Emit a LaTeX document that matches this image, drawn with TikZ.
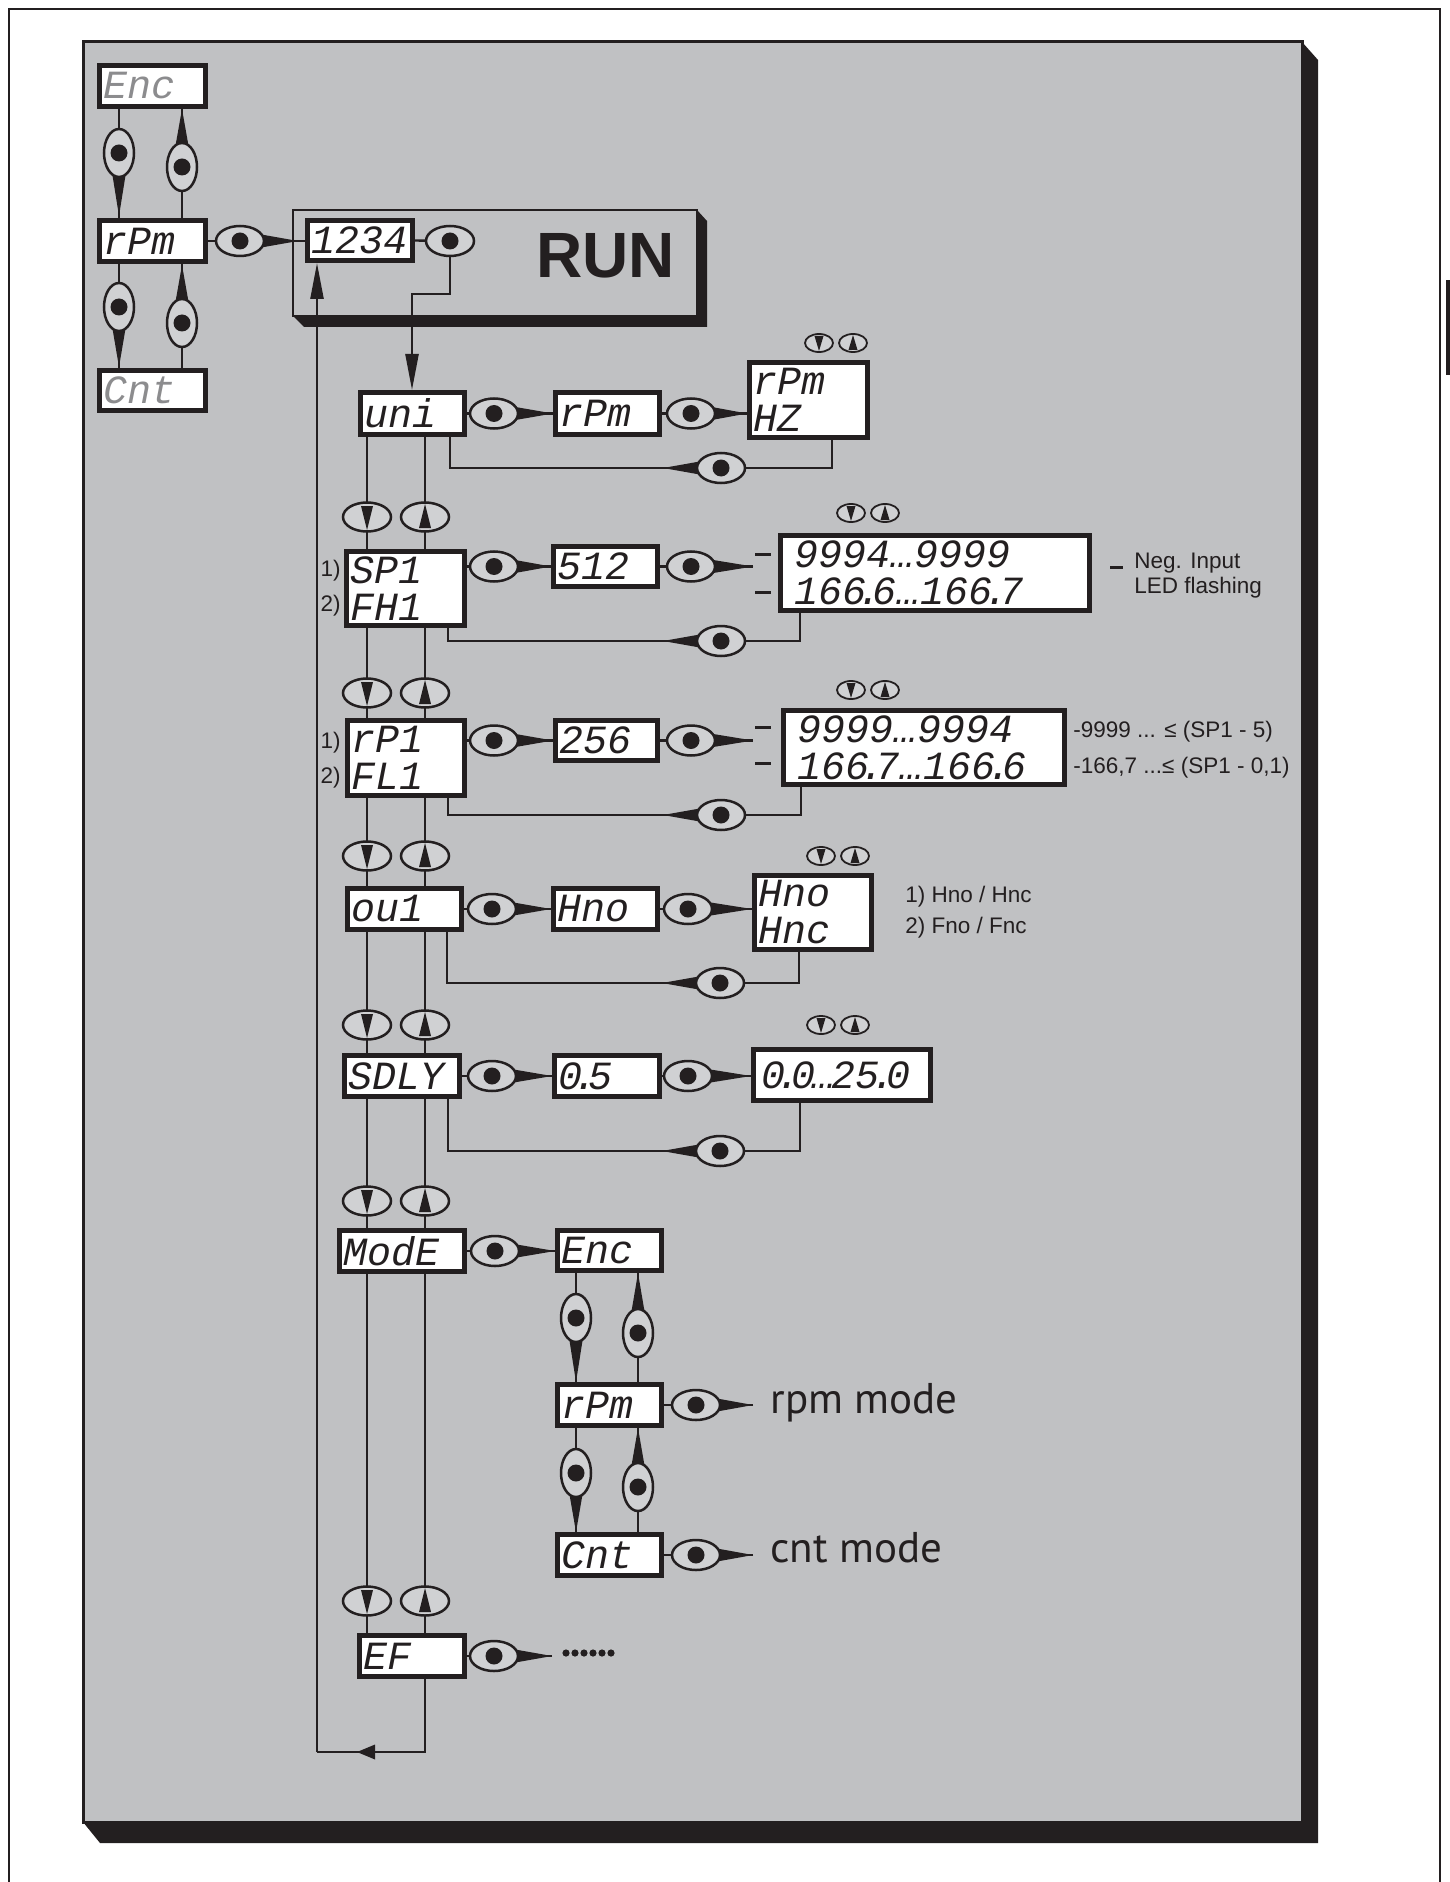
\documentclass[tikz,border=0pt]{standalone}
\usepackage{fontspec}
\setmainfont{Liberation Sans}
\newfontfamily\lcdfont{Liberation Mono}
\newfontfamily\modefont{PT Sans}
\usetikzlibrary{arrows.meta}
\definecolor{ink}{RGB}{35,31,32}
\definecolor{panelgray}{RGB}{192,193,195}
\definecolor{ovalgray}{RGB}{208,209,211}
\definecolor{lcdgray}{RGB}{140,140,142}
\newcommand\dt{\kern-.22em.\kern-.22em}
\tikzset{
  lcd/.style={draw=ink,line width=2.5pt,fill=white,rectangle,inner xsep=2pt,inner ysep=0pt,
    align=left,text=ink,font=\lcdfont\itshape\fontsize{20pt}{18.5pt}\selectfont},
  conn/.style={draw=ink,line width=1.2pt},
  tip/.style={-{Triangle[length=18pt,width=6.5pt]}},
  lbl/.style={font=\fontsize{11.25pt}{13.5pt}\selectfont,text=ink,inner sep=0pt},
  modelbl/.style={font=\modefont\fontsize{21.5pt}{24pt}\selectfont,text=ink,inner sep=0pt,anchor=base west},
  pics/pushb/.style={code={
     \fill[ink] (10,-8.5) -- (#1,0) -- (10,8.5) -- cycle;
     \draw[ink,line width=1.25pt,fill=ovalgray] (0,0) ellipse [x radius=12pt,y radius=7.5pt];
     \fill[ink] (0,0) circle [radius=4.25pt];}},
  pics/arrbtn/.style={code={
     \draw[ink,line width=1.25pt,fill=ovalgray] (0,0) ellipse [x radius=12pt,y radius=7.25pt];
     \fill[ink] (-6,-11) -- (6,-11) -- (0,13) -- cycle;}},
  pics/smallarr/.style={code={
     \draw[ink,line width=0.9pt,fill=ovalgray] (0,0) ellipse [x radius=7pt,y radius=4.5pt];
     \fill[ink] (-4.5,-7) -- (4.5,-7) -- (0,8) -- cycle;}},
}
% box from outer corners (x1,y1)-(x2,y2) in pixel units
\newcommand\lcdbox[7][]{%
  \pgfmathsetmacro\bxc{(#3+#5)/2}%
  \pgfmathsetmacro\byc{(#4+#6)/2}%
  \pgfmathsetmacro\bw{(#5-#3)/2-2.5}%
  \pgfmathsetmacro\bh{(#6-#4)/2-2.5}%
  \pgfmathsetmacro\btw{\bw-4}%
  \node[lcd,minimum width=\bw pt,minimum height=\bh pt,text width=\btw pt,#1] (#2) at (\bxc,\byc) {#7};}
\begin{document}
\begin{tikzpicture}[x=0.5pt,y=-0.5pt]
\useasboundingbox (0,0) rectangle (1449,1882);
% outer frame
\draw[ink,line width=1.3pt] (9,1895) -- (9,9) -- (1440,9) -- (1440,1895);
\fill[ink] (1446,280) rectangle (1452,375);
% main panel with shadow
\fill[ink] (1302,42) -- (1318,60) -- (1318,1843) -- (100,1843) -- (83,1822) -- (1302,1822) -- cycle;
\filldraw[fill=panelgray,draw=ink,line width=1.5pt] (83,42) rectangle (1302,1822);
% RUN panel
\fill[ink] (697,210) -- (707,221) -- (707,327) -- (304,327) -- (293,316) -- (697,316) -- cycle;
\filldraw[fill=panelgray,draw=ink,line width=1pt] (293,210) rectangle (697,316);
\node[font=\bfseries\fontsize{32pt}{32pt}\selectfont,anchor=base west,inner sep=0pt,text=ink] (runlbl) at (536,278) {RUN};

% column coordinates
\coordinate (xa) at (119,0);
\coordinate (xb) at (182,0);
\coordinate (colD) at (367,0);
\coordinate (colU) at (425,0);
\coordinate (xm1) at (576,0);
\coordinate (xm2) at (638,0);

% top-left boxes
\lcdbox[text=lcdgray]{encT}{97}{63}{208}{109}{Enc}
\lcdbox{rpmT}{97}{218}{208}{264}{rPm}
\lcdbox[text=lcdgray]{cntT}{97}{368}{208}{413}{Cnt}
\lcdbox{b1234}{305}{218}{415}{263}{1234}

% menu boxes
\lcdbox{uni}{358}{390}{467}{437}{uni}
\lcdbox{rpmB}{553}{390}{662}{437}{rPm}
\lcdbox{rpmhz}{747}{360}{870}{440}{rPm\\HZ}
\lcdbox{sp}{344}{549}{467}{628}{SP1\\FH1}
\lcdbox{sv}{551}{544}{660}{589}{512}
\lcdbox{rngA}{778}{533}{1092}{613}{\hspace*{5pt}9994…9999\\\hspace*{5pt}166\dt6…166\dt7}
\lcdbox{rp}{345}{718}{467}{798}{rP1\\FL1}
\lcdbox{rv}{553}{718}{660}{763}{256}
\lcdbox{rngB}{781}{708}{1067}{787}{\hspace*{5pt}9999…9994\\\hspace*{5pt}166\dt7…166\dt6}
\lcdbox{ou}{345}{886}{464}{932}{ou1}
\lcdbox{hno}{551}{886}{660}{932}{Hno}
\lcdbox{hnc}{752}{873}{874}{952}{Hno\\Hnc}
\lcdbox{sdly}{342}{1053}{462}{1099}{SDLY}
\lcdbox{dv}{552}{1053}{662}{1099}{0\dt5}
\lcdbox{dr}{751}{1047}{933}{1103}{\hspace*{2pt}0\dt0\kern-.1em…\kern-.1em25\dt0}
\lcdbox{mode}{337}{1228}{467}{1274}{ModE}
\lcdbox{encM}{555}{1228}{664}{1273}{Enc}
\lcdbox{rpmM}{555}{1382}{664}{1428}{rPm}
\lcdbox{cntM}{555}{1532}{664}{1578}{Cnt}
\lcdbox{ef}{357}{1633}{467}{1679}{EF}

% top-left connectors
\draw[conn] (encT.south -| xa) -- (rpmT.north -| xa);
\draw[conn] (rpmT.north -| xb) -- (encT.south -| xb);
\draw[conn] (rpmT.south -| xa) -- (cntT.north -| xa);
\draw[conn] (cntT.north -| xb) -- (rpmT.south -| xb);
\pic[rotate=-90] at (119,153) {pushb=63};
\pic[rotate=90] at (182,167) {pushb=58};
\pic[rotate=-90] at (119,307) {pushb=60};
\pic[rotate=90] at (182,323) {pushb=58};
\draw[conn] (rpmT.east) -- (rpmT.east -| b1234.west);
\pic at (240,241) {pushb=58};

% RUN: button and path to uni
\coordinate (runbtn) at (450,241);
\coordinate (runknee) at (412,294);
\draw[conn] (b1234.east) -- (runbtn);
\draw[conn,tip] (runbtn) |- (runknee) -- (uni.north -| runknee);
\pic at (runbtn) {pushb=0};

% uni row
\draw[conn] (uni.east) -- (rpmB.west);
\pic at (494,413.5) {pushb=59};
\draw[conn] (rpmB.east) -- (rpmB.east -| rpmhz.west);
\pic at (691,413.5) {pushb=56};
\coordinate (rA) at (832,468);
\coordinate (xrA) at (450,0);
\draw[conn] (rpmhz.south -| rA) -- (rA) -| (uni.south -| xrA);
\pic[rotate=180] at (721,468) {pushb=58};

% SP1 row
\coordinate (tipA) at (753,566.5);
\coordinate (rB) at (800,641);
\coordinate (xrB) at (448,0);
\draw[conn] (sv.west -| sp.east) -- (sv.west);
\pic at (494,566.5) {pushb=57};
\draw[conn] (sv.east) -- (tipA);
\pic at (691,566.5) {pushb=62};
\draw[ink,line width=1.5pt] (755,554) -- (771,554) (755,592) -- (771,592);
\draw[conn] (rngA.south -| rB) -- (rB) -| (sp.south -| xrB);
\pic[rotate=180] at (721,641) {pushb=58};

% rP1 row
\coordinate (tipB) at (753,740.5);
\coordinate (rC) at (801,815);
\draw[conn] (rv.west -| rp.east) -- (rv.west);
\pic at (494,740.5) {pushb=59};
\draw[conn] (rv.east) -- (tipB);
\pic at (691,740.5) {pushb=62};
\draw[ink,line width=1.5pt] (755,727) -- (771,727) (755,763) -- (771,763);
\draw[conn] (rngB.south -| rC) -- (rC) -| (rp.south -| xrB);
\pic[rotate=180] at (721,815) {pushb=58};

% ou1 row
\coordinate (rD) at (799,983);
\coordinate (xrD) at (447,0);
\draw[conn] (ou.east) -- (hno.west);
\pic at (492,909) {pushb=59};
\draw[conn] (hno.east) -- (hno.east -| hnc.west);
\pic at (688,909) {pushb=64};
\draw[conn] (hnc.south -| rD) -- (rD) -| (ou.south -| xrD);
\pic[rotate=180] at (720,983) {pushb=58};

% SDLY row
\coordinate (rE) at (800,1151);
\draw[conn] (sdly.east) -- (dv.west);
\pic at (492,1076) {pushb=60};
\draw[conn] (dv.east) -- (dv.east -| dr.west);
\pic at (688,1076) {pushb=63};
\draw[conn] (dr.south -| rE) -- (rE) -| (sdly.south -| xrB);
\pic[rotate=180] at (720,1151) {pushb=58};

% Mode
\draw[conn] (mode.east) -- (mode.east -| encM.west);
\pic at (495,1251) {pushb=60};
\draw[conn] (encM.south -| xm1) -- (rpmM.north -| xm1);
\draw[conn] (rpmM.north -| xm2) -- (encM.south -| xm2);
\draw[conn] (rpmM.south -| xm1) -- (cntM.north -| xm1);
\draw[conn] (cntM.north -| xm2) -- (rpmM.south -| xm2);
\pic[rotate=-90] at (576,1318) {pushb=64};
\pic[rotate=90] at (638,1333) {pushb=60};
\pic[rotate=-90] at (576,1473) {pushb=59};
\pic[rotate=90] at (638,1487) {pushb=59};
\coordinate (tipR) at (753,1405);
\coordinate (tipC) at (753,1555);
\draw[conn] (rpmM.east) -- (tipR);
\draw[conn] (cntM.east) -- (tipC);
\pic at (696,1405) {pushb=57};
\pic at (696,1555) {pushb=57};
\node[modelbl] (rpmlbl) at (770,1413) {rpm mode};
\node[modelbl] (cntlbl) at (770,1562) {cnt mode};

% EF
\coordinate (tipE) at (552,1656);
\draw[conn] (ef.east) -- (tipE);
\pic at (494,1656) {pushb=58};
\foreach \k in {0,...,5} \fill[ink] (566+9*\k,1653) circle [radius=1.8pt];

% return path
\coordinate (back1) at (425,1752);
\coordinate (back2) at (317,1752);
\draw[conn] (ef.south -| colU) -- (back1) -- (back2);
\fill[ink] (357,1752) -- (375,1744.5) -- (375,1759.5) -- cycle;
\draw[conn,tip] (back2) -- (b1234.south -| back2);

% main column connectors with arrow buttons
\foreach \a/\b/\yy in {uni/sp/517,sp/rp/693,rp/ou/856,ou/sdly/1025,sdly/mode/1201,mode/ef/1601}{
  \draw[conn] (\a.south -| colD) -- (\b.north -| colD);
  \draw[conn] (\b.north -| colU) -- (\a.south -| colU);
  \pic at (367,\yy) {arrbtn};
  \pic[rotate=180] at (425,\yy) {arrbtn};
}

% small up/down icons
\foreach \xx/\yy in {819/343,851/513,851/690,821/856,821/1025}{
  \pic at (\xx,\yy) {smallarr};
  \pic[rotate=180] at (\xx+34,\yy) {smallarr};
}

% labels
\node[lbl,anchor=base east] (n1a) at (341,576) {1)};
\node[lbl,anchor=base east] (n2a) at (341,611) {2)};
\node[lbl,anchor=base east] (n1b) at (341,748) {1)};
\node[lbl,anchor=base east] (n2b) at (341,783) {2)};
\draw[ink,line width=1.5pt] (1110,567) -- (1123,567);
\node[lbl,anchor=base west] (neg1) at (1134,568) {Neg. Input};
\node[lbl,anchor=base west] (neg2) at (1134,593) {LED flashing};
\node[lbl,anchor=base west] (lim1) at (1073,737) {-9999 ... ≤ (SP1 - 5)};
\node[lbl,anchor=base west] (lim2) at (1073,773) {-166,7 ...≤ (SP1 - 0,1)};
\node[lbl,anchor=base west] (hn1) at (905,902) {1) Hno / Hnc};
\node[lbl,anchor=base west] (hn2) at (905,933) {2) Fno / Fnc};
\end{tikzpicture}
\end{document}
